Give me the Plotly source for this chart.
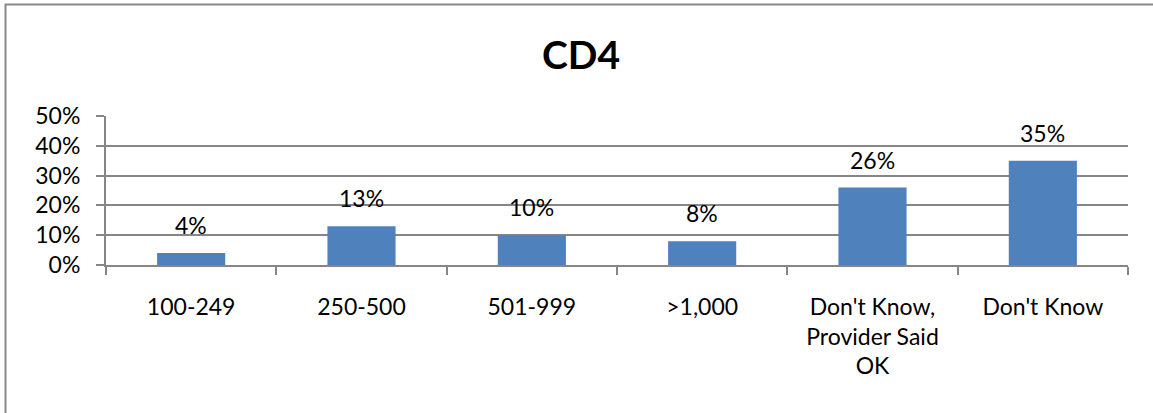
import plotly.graph_objects as go

categories = ["100-249", "250-500", "501-999", ">1,000",
              "Don't Know,<br>Provider Said<br>OK", "Don't Know"]
values = [4, 13, 10, 8, 26, 35]
y_ticks = [0, 10, 20, 30, 40, 50]
y_tick_labels = ["0%", "10%", "20%", "30%", "40%", "50%"]

W, H = 1153, 413
ML, MR, MT, MB = 106, 25, 116, 148
plot_w = W - ML - MR
plot_h = H - MT - MB

FONT = "Lato, 'Open Sans', sans-serif"
GRID = "#868686"
BAR = "#4F81BD"
TXT = 23

fig = go.Figure(go.Bar(
    x=categories,
    y=values,
    marker=dict(color=BAR, line=dict(width=0)),
    hoverinfo="skip",
))

# value labels above each bar
for c, v in zip(categories, values):
    fig.add_annotation(
        x=c, y=v, text=f"{v}%", showarrow=False,
        yanchor="bottom", yshift=12,
        font=dict(family=FONT, size=TXT, color="#000000"),
    )

# chart frame (left and top edges visible; right/bottom run off the page)
def px_x(px):
    return (px - ML) / plot_w

def px_y(py):
    return (H - MB - py) / plot_h

fig.add_shape(
    type="rect", xref="paper", yref="paper",
    x0=px_x(5.5), x1=px_x(1170), y0=px_y(430), y1=px_y(4.5),
    line=dict(color="#898989", width=2), fillcolor="rgba(0,0,0,0)",
    layer="below",
)

fig.update_layout(
    width=W, height=H,
    margin=dict(l=ML, r=MR, t=MT, b=MB, pad=0),
    paper_bgcolor="white", plot_bgcolor="white",
    bargap=0.6,
    showlegend=False,
    title=dict(
        text="<b>CD4</b>", x=581 / W, xanchor="center",
        y=1 - 55 / H, yanchor="middle",
        font=dict(family=FONT, size=39, color="#000000"),
    ),
    font=dict(family=FONT, size=TXT, color="#000000"),
)

fig.update_xaxes(
    type="category",
    showline=True, linecolor=GRID, linewidth=2,
    ticks="outside", tickson="boundaries", ticklen=8, tickwidth=2, tickcolor=GRID,
    showgrid=False,
    tickfont=dict(family=FONT, size=TXT, color="#000000"),
    ticklabelstandoff=20,
    fixedrange=True,
)
fig.update_yaxes(
    range=[0, 50],
    tickvals=y_ticks, ticktext=y_tick_labels,
    showline=True, linecolor=GRID, linewidth=2,
    ticks="outside", ticklen=8, tickwidth=2, tickcolor=GRID,
    showgrid=True, gridcolor=GRID, gridwidth=2,
    zeroline=False,
    tickfont=dict(family=FONT, size=TXT, color="#000000"),
    ticklabelstandoff=11,
    fixedrange=True,
)

fig.write_html("out.html", config={"displayModeBar": False})
